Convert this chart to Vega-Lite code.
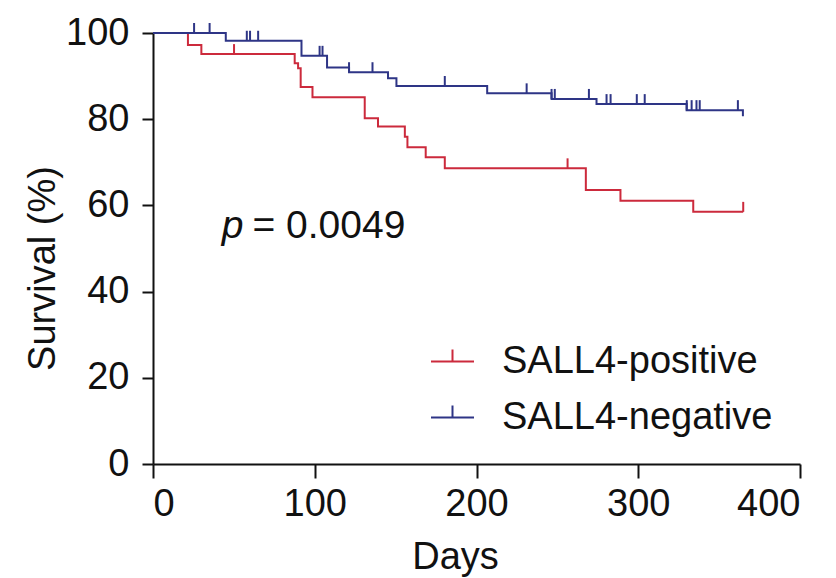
{
  "$schema": "https://vega.github.io/schema/vega-lite/v6.json",
  "autosize": "none",
  "width": 647,
  "height": 431,
  "padding": {"left": 153, "top": 33, "right": 36, "bottom": 114},
  "background": "white",
  "config": {
    "view": {"stroke": null},
    "font": "Liberation Sans",
    "axis": {
      "grid": false,
      "domainColor": "#111111",
      "domainWidth": 2,
      "tickColor": "#111111",
      "tickWidth": 2,
      "labelFont": "Liberation Sans",
      "labelFontSize": 38,
      "labelColor": "#111111",
      "titleFont": "Liberation Sans",
      "titleFontSize": 38,
      "titleFontWeight": "normal",
      "titleColor": "#111111"
    }
  },
  "datasets": {
    "curves": [
      {"group": "SALL4-positive", "day": 0, "surv": 100},
      {"group": "SALL4-positive", "day": 21.6, "surv": 97.2},
      {"group": "SALL4-positive", "day": 29.9, "surv": 95.1},
      {"group": "SALL4-positive", "day": 87.6, "surv": 93.0},
      {"group": "SALL4-positive", "day": 89.7, "surv": 91.8},
      {"group": "SALL4-positive", "day": 91.3, "surv": 87.5},
      {"group": "SALL4-positive", "day": 98.6, "surv": 85.1},
      {"group": "SALL4-positive", "day": 130.9, "surv": 80.2},
      {"group": "SALL4-positive", "day": 139.1, "surv": 78.3},
      {"group": "SALL4-positive", "day": 155.7, "surv": 75.9},
      {"group": "SALL4-positive", "day": 157.3, "surv": 73.5},
      {"group": "SALL4-positive", "day": 168.6, "surv": 71.2},
      {"group": "SALL4-positive", "day": 180.4, "surv": 68.6},
      {"group": "SALL4-positive", "day": 267.6, "surv": 63.6},
      {"group": "SALL4-positive", "day": 289, "surv": 61.1},
      {"group": "SALL4-positive", "day": 334, "surv": 58.5},
      {"group": "SALL4-positive", "day": 364.9, "surv": 58.5},
      {"group": "SALL4-negative", "day": 0, "surv": 100},
      {"group": "SALL4-negative", "day": 45, "surv": 98.2},
      {"group": "SALL4-negative", "day": 91.8, "surv": 94.7},
      {"group": "SALL4-negative", "day": 107.6, "surv": 92.0},
      {"group": "SALL4-negative", "day": 121.2, "surv": 90.9},
      {"group": "SALL4-negative", "day": 145.3, "surv": 89.5},
      {"group": "SALL4-negative", "day": 150.5, "surv": 87.7},
      {"group": "SALL4-negative", "day": 206.6, "surv": 86.0},
      {"group": "SALL4-negative", "day": 246.4, "surv": 84.7},
      {"group": "SALL4-negative", "day": 274.2, "surv": 83.5},
      {"group": "SALL4-negative", "day": 329.9, "surv": 82.1},
      {"group": "SALL4-negative", "day": 364.7, "surv": 80.7}
    ],
    "censored": [
      {"group": "SALL4-positive", "day": 50.1, "surv": 95.1},
      {"group": "SALL4-positive", "day": 256.3, "surv": 68.6},
      {"group": "SALL4-positive", "day": 364.9, "surv": 58.5},
      {"group": "SALL4-negative", "day": 25.4, "surv": 100},
      {"group": "SALL4-negative", "day": 35, "surv": 100},
      {"group": "SALL4-negative", "day": 58, "surv": 98.2},
      {"group": "SALL4-negative", "day": 60, "surv": 98.2},
      {"group": "SALL4-negative", "day": 65, "surv": 98.2},
      {"group": "SALL4-negative", "day": 103, "surv": 94.7},
      {"group": "SALL4-negative", "day": 104.8, "surv": 94.7},
      {"group": "SALL4-negative", "day": 121.2, "surv": 90.9},
      {"group": "SALL4-negative", "day": 135.7, "surv": 90.9},
      {"group": "SALL4-negative", "day": 180.4, "surv": 87.7},
      {"group": "SALL4-negative", "day": 231, "surv": 86.0},
      {"group": "SALL4-negative", "day": 246.4, "surv": 84.7},
      {"group": "SALL4-negative", "day": 248.4, "surv": 84.7},
      {"group": "SALL4-negative", "day": 269.5, "surv": 84.7},
      {"group": "SALL4-negative", "day": 280.4, "surv": 83.5},
      {"group": "SALL4-negative", "day": 282.9, "surv": 83.5},
      {"group": "SALL4-negative", "day": 299.1, "surv": 83.5},
      {"group": "SALL4-negative", "day": 304, "surv": 83.5},
      {"group": "SALL4-negative", "day": 330, "surv": 82.1},
      {"group": "SALL4-negative", "day": 333, "surv": 82.1},
      {"group": "SALL4-negative", "day": 336, "surv": 82.1},
      {"group": "SALL4-negative", "day": 338, "surv": 82.1},
      {"group": "SALL4-negative", "day": 361.6, "surv": 82.1}
    ]
  },
  "layer": [
    {
      "data": {"name": "curves"},
      "transform": [{"filter": "datum.group === 'SALL4-positive'"}],
      "mark": {"type": "line", "interpolate": "step-after", "strokeWidth": 2},
      "encoding": {
        "x": {
          "field": "day", "type": "quantitative",
          "scale": {"domain": [0, 400], "nice": false},
          "axis": {
            "values": [0, 100, 200, 300, 400],
            "tickSize": 14, "labelPadding": 7,
            "title": "Days", "titleX": 302, "titleY": 104,
            "titleAlign": "center", "titleBaseline": "alphabetic"
          }
        },
        "y": {
          "field": "surv", "type": "quantitative",
          "scale": {"domain": [0, 100], "nice": false},
          "axis": {
            "values": [0, 20, 40, 60, 80, 100],
            "tickSize": 11, "labelPadding": 13,
            "title": "Survival (%)", "titleX": -110, "titleY": 235,
            "titleAngle": -90, "titleAlign": "center", "titleBaseline": "middle"
          }
        },
        "color": {
          "field": "group", "type": "nominal",
          "scale": {"domain": ["SALL4-positive", "SALL4-negative"], "range": ["#cc2a3c", "#2e3586"]},
          "legend": {
            "orient": "none", "legendX": 277, "legendY": 306, "direction": "vertical",
            "title": null, "padding": 0,
            "symbolType": "M-1,0H1M0,0V-0.56", "symbolSize": 1849, "symbolStrokeWidth": 2,
            "symbolFillColor": "transparent",
            "labelFont": "Liberation Sans", "labelFontSize": 38, "labelColor": "#111111",
            "labelOffset": 27, "rowPadding": 14, "labelLimit": 400
          }
        }
      }
    },
    {
      "data": {"name": "curves"},
      "transform": [{"filter": "datum.group === 'SALL4-negative'"}],
      "mark": {"type": "line", "interpolate": "step-after", "strokeWidth": 2},
      "encoding": {
        "x": {"field": "day", "type": "quantitative"},
        "y": {"field": "surv", "type": "quantitative"},
        "color": {"field": "group", "type": "nominal"}
      }
    },
    {
      "data": {"name": "censored"},
      "transform": [{"filter": "datum.group === 'SALL4-positive'"}],
      "mark": {"type": "tick", "orient": "vertical", "size": 10, "thickness": 2, "yOffset": -5, "color": "#cc2a3c", "opacity": 1},
      "encoding": {
        "x": {"field": "day", "type": "quantitative"},
        "y": {"field": "surv", "type": "quantitative"}
      }
    },
    {
      "data": {"name": "censored"},
      "transform": [{"filter": "datum.group === 'SALL4-negative'"}],
      "mark": {"type": "tick", "orient": "vertical", "size": 10, "thickness": 2, "yOffset": -5, "color": "#2e3586", "opacity": 1},
      "encoding": {
        "x": {"field": "day", "type": "quantitative"},
        "y": {"field": "surv", "type": "quantitative"}
      }
    },
    {
      "data": {"values": [{"label": "p"}]},
      "mark": {"type": "text", "fontStyle": "italic", "font": "Liberation Sans", "fontSize": 39, "align": "left", "baseline": "alphabetic", "color": "#111111"},
      "encoding": {
        "x": {"datum": 42.5, "type": "quantitative"},
        "y": {"datum": 52.4, "type": "quantitative"},
        "text": {"field": "label", "type": "nominal"}
      }
    },
    {
      "data": {"values": [{"label": "= 0.0049"}]},
      "mark": {"type": "text", "font": "Liberation Sans", "fontSize": 39, "align": "left", "baseline": "alphabetic", "color": "#111111"},
      "encoding": {
        "x": {"datum": 61.5, "type": "quantitative"},
        "y": {"datum": 52.4, "type": "quantitative"},
        "text": {"field": "label", "type": "nominal"}
      }
    }
  ]
}
